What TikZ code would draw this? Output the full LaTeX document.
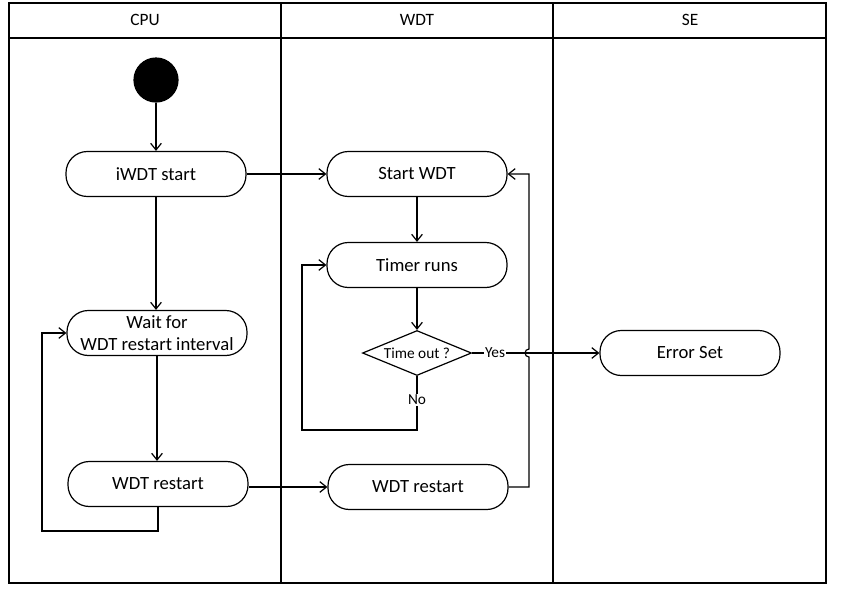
\documentclass[tikz,border=0pt]{standalone}
\usepackage{fontspec}
\setmainfont{Carlito}
\usetikzlibrary{shapes.geometric, arrows.meta}

\begin{document}
\begin{tikzpicture}[x=0.75pt, y=-0.75pt, line width=0.9pt,
  act/.style={draw, rectangle, rounded corners=16pt, minimum width=135pt,
    minimum height=33.75pt, inner sep=0pt, align=center,
    font=\fontsize{14}{16.5}\selectfont},
  dec/.style={draw, diamond, aspect=2.4, minimum width=81.75pt,
    minimum height=33.75pt, inner sep=0pt, font=\fontsize{11.5}{13}\selectfont},
  lbl/.style={fill=white, inner sep=1pt, font=\fontsize{11.5}{13}\selectfont},
  lane/.style={font=\fontsize{13}{15}\selectfont},
  flow/.style={-{Straight Barb[length=5pt, width=8pt]}}]

  \useasboundingbox (0,0) rectangle (841,593);

  % lanes
  \draw (9,3) rectangle (826,583);
  \draw (9,38) -- (826,38);
  \draw (281,3) -- (281,583);
  \draw (553,3) -- (553,583);
  \node[lane] (cpu) at (145,20) {CPU};
  \node[lane] (wdt) at (417,20) {WDT};
  \node[lane] (se)  at (690,20) {SE};

  % nodes
  \node[draw, circle, fill, minimum size=33pt] (start) at (156,80) {};
  \node[act] (istart) at (156,174) {iWDT start};
  \node[act] (wait)   at (157,333) {Wait for\\WDT restart interval};
  \node[act] (crst)   at (158,484) {WDT restart};
  \node[act] (swdt)   at (417,174) {Start WDT};
  \node[act] (trun)   at (417,265) {Timer runs};
  \node[dec] (tout)   at (417,353) {Time out ?};
  \node[act] (err)    at (690,353) {Error Set};
  \node[act] (wrst)   at (418,487) {WDT restart};

  \coordinate (cpuloop) at (42,531);
  \coordinate (noloop)  at (302,430);
  \coordinate (rbot)    at (529,487);
  \coordinate (jmp)     at (529,353);
  \coordinate (rtop)    at (529,174);

  % flow
  \draw[flow] (start) -- (istart);
  \draw[flow] (istart) -- (swdt);
  \draw[flow] (istart) -- (istart |- wait.north);
  \draw[flow] (wait.south) -- (wait.south |- crst.north);
  \draw[flow] (crst.south) |- (cpuloop) |- (wait.west);
  \draw[flow] (crst.east |- wrst) -- (wrst.west);
  \draw[flow] (swdt) -- (trun);
  \draw[flow] (trun) -- (tout);
  \draw[flow] (tout.south) |- (noloop) |- (trun.west);
  \draw[flow] (tout.east) -- (err.west);
  \draw[flow] (wrst.east) -- (rbot) -- ([yshift=-3pt]jmp)
    arc[start angle=270, end angle=90, radius=3pt] -- (rtop) -- (swdt.east);
  \node[lbl] (no)  at (417,400) {No};
  \node[lbl] (yes) at (495,353) {Yes};
\end{tikzpicture}
\end{document}
